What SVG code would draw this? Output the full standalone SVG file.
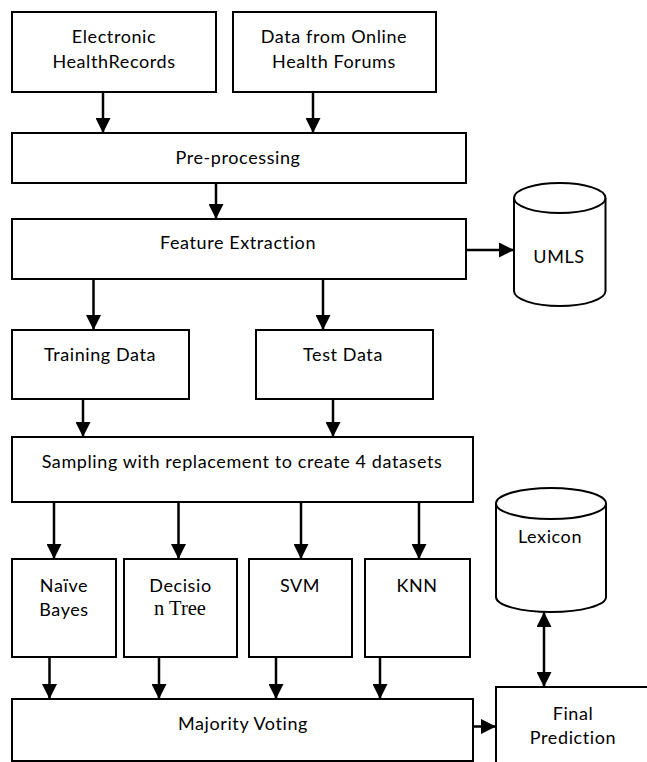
<svg xmlns="http://www.w3.org/2000/svg" width="647" height="762" viewBox="0 0 647 762">
<style>
.box{fill:#fff;stroke:#000;stroke-width:2}
.t{font-family:Lato,"Open Sans","Liberation Sans",sans-serif;font-size:18px;letter-spacing:0.6px;fill:#000;text-anchor:middle}
.s{font-family:"Liberation Serif",serif;font-size:20.5px;letter-spacing:0}
.c{fill:none;stroke:#000;stroke-width:2.5}
</style>
<defs>
<marker id="ah" viewBox="0 0 15 15" refX="15" refY="7.5" markerWidth="15" markerHeight="15" markerUnits="userSpaceOnUse" orient="auto-start-reverse">
<path d="M0,0 L15,7.5 L0,15 z" fill="#000"/>
</marker>
</defs>
<rect width="647" height="762" fill="#fff"/>
<g id="connectors">
<line class="c" x1="103" y1="92" x2="103" y2="133" marker-end="url(#ah)"/>
<line class="c" x1="313" y1="92" x2="313" y2="133" marker-end="url(#ah)"/>
<line class="c" x1="216" y1="183" x2="216" y2="219" marker-end="url(#ah)"/>
<line class="c" x1="466" y1="250" x2="514" y2="250" marker-end="url(#ah)"/>
<line class="c" x1="93.5" y1="279" x2="93.5" y2="330" marker-end="url(#ah)"/>
<line class="c" x1="323" y1="279" x2="323" y2="330" marker-end="url(#ah)"/>
<line class="c" x1="83" y1="399" x2="83" y2="437" marker-end="url(#ah)"/>
<line class="c" x1="333" y1="399" x2="333" y2="437" marker-end="url(#ah)"/>
<line class="c" x1="54" y1="502" x2="54" y2="559" marker-end="url(#ah)"/>
<line class="c" x1="178.5" y1="502" x2="178.5" y2="559" marker-end="url(#ah)"/>
<line class="c" x1="301" y1="502" x2="301" y2="559" marker-end="url(#ah)"/>
<line class="c" x1="419" y1="502" x2="419" y2="559" marker-end="url(#ah)"/>
<line class="c" x1="49.5" y1="657" x2="49.5" y2="699" marker-end="url(#ah)"/>
<line class="c" x1="159" y1="657" x2="159" y2="699" marker-end="url(#ah)"/>
<line class="c" x1="276" y1="657" x2="276" y2="699" marker-end="url(#ah)"/>
<line class="c" x1="380" y1="657" x2="380" y2="699" marker-end="url(#ah)"/>
<line class="c" x1="473" y1="726.5" x2="496" y2="726.5" marker-end="url(#ah)"/>
<line class="c" x1="544" y1="612" x2="544" y2="687" marker-start="url(#ah)" marker-end="url(#ah)"/>
</g>
<g id="ehr">
<rect class="box" x="12" y="12" width="204" height="80"/>
<text class="t" x="114" y="43">Electronic</text>
<text class="t" x="114" y="68">HealthRecords</text>
</g>
<g id="forums">
<rect class="box" x="233" y="12" width="203" height="80"/>
<text class="t" x="334" y="43">Data from Online</text>
<text class="t" x="334" y="68">Health Forums</text>
</g>
<g id="preprocessing">
<rect class="box" x="12" y="133" width="454" height="50"/>
<text class="t" x="238" y="164">Pre-processing</text>
</g>
<g id="feature">
<rect class="box" x="12" y="219" width="454" height="60"/>
<text class="t" x="238" y="249">Feature Extraction</text>
</g>
<g id="umls">
<path class="box" d="M514,198 L514,291 A45.75,15 0 0 0 605.5,291 L605.5,198"/>
<ellipse class="box" cx="559.75" cy="198" rx="45.75" ry="15"/>
<text class="t" x="559" y="263">UMLS</text>
</g>
<g id="training">
<rect class="box" x="12" y="330" width="177" height="69"/>
<text class="t" x="100" y="361">Training Data</text>
</g>
<g id="test">
<rect class="box" x="256" y="330" width="177" height="69"/>
<text class="t" x="343" y="361">Test Data</text>
</g>
<g id="sampling">
<rect class="box" x="12" y="437" width="461" height="65"/>
<text class="t" x="242" y="468">Sampling with replacement to create 4 datasets</text>
</g>
<g id="nb">
<rect class="box" x="12" y="559" width="104" height="98"/>
<text class="t" x="64" y="591.5">Naïve</text>
<text class="t" x="64" y="616">Bayes</text>
</g>
<g id="dt">
<rect class="box" x="124" y="559" width="113" height="98"/>
<text class="t" x="180.5" y="591.5">Decisio</text>
<text class="t s" x="180" y="615">n Tree</text>
</g>
<g id="svm">
<rect class="box" x="249" y="559" width="103" height="98"/>
<text class="t" x="300" y="591.5">SVM</text>
</g>
<g id="knn">
<rect class="box" x="365" y="559" width="105" height="98"/>
<text class="t" x="417" y="591.5">KNN</text>
</g>
<g id="lexicon">
<path class="box" d="M496,503.5 L496,597 A55,15 0 0 0 606,597 L606,503.5"/>
<ellipse class="box" cx="551" cy="503.5" rx="55" ry="15.5"/>
<text class="t" x="550" y="543">Lexicon</text>
</g>
<g id="majority">
<rect class="box" x="12" y="699" width="461" height="62"/>
<text class="t" x="243" y="730">Majority Voting</text>
</g>
<g id="final">
<rect class="box" x="496" y="687" width="153" height="80"/>
<text class="t" x="573" y="720">Final</text>
<text class="t" x="573" y="744">Prediction</text>
</g>
</svg>
